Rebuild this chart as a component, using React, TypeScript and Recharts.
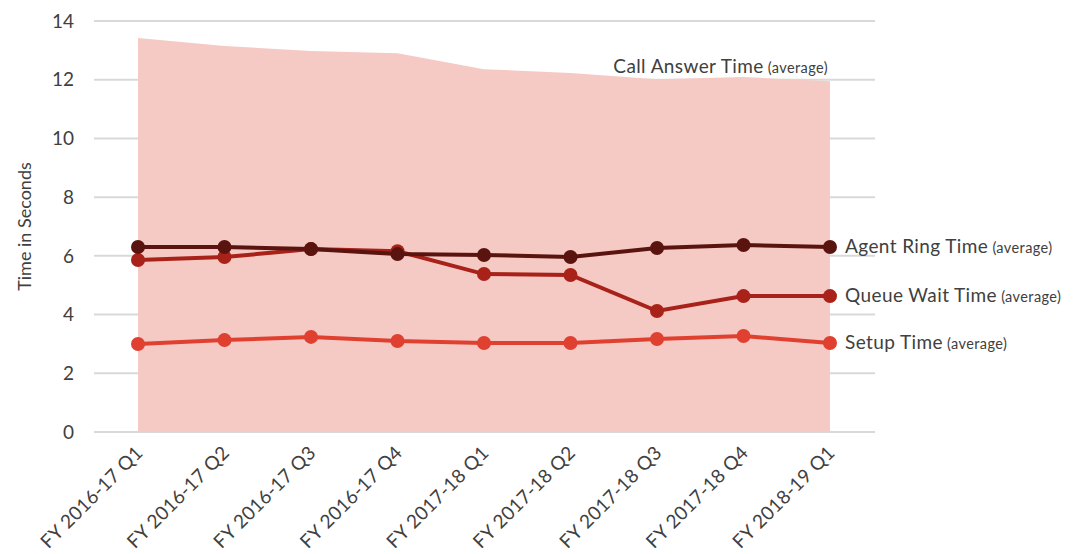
import React from 'react';
import {
  ComposedChart,
  Area,
  Line,
  XAxis,
  YAxis,
  CartesianGrid,
  Label,
} from 'recharts';

const quarters = [
  'FY 2016-17 Q1',
  'FY 2016-17 Q2',
  'FY 2016-17 Q3',
  'FY 2016-17 Q4',
  'FY 2017-18 Q1',
  'FY 2017-18 Q2',
  'FY 2017-18 Q3',
  'FY 2017-18 Q4',
  'FY 2018-19 Q1',
];
const callAnswer = [13.42, 13.15, 12.98, 12.9, 12.36, 12.23, 12.02, 12.09, 11.95];
const agentRing = [6.3, 6.3, 6.23, 6.06, 6.03, 5.96, 6.27, 6.37, 6.3];
const queueWait = [5.86, 5.96, 6.23, 6.16, 5.38, 5.35, 4.12, 4.63, 4.63];
const setupTime = [3.0, 3.13, 3.24, 3.1, 3.03, 3.03, 3.17, 3.27, 3.03];
const yTicks = [0, 2, 4, 6, 8, 10, 12, 14];

const FONT = 'Lato, "Open Sans", sans-serif';
const TEXT = '#404040';

const chartData = quarters.map((q, i) => ({
  quarter: q,
  callAnswer: callAnswer[i],
  agentRing: agentRing[i],
  queueWait: queueWait[i],
  setup: setupTime[i],
}));

const last = quarters.length - 1;

// label at the right end of a line
const endLabel = (name: string) => (props: any) => {
  if (props.index !== last) return null;
  return (
    <text
      x={props.x + 15}
      y={props.y + 6}
      fontFamily={FONT}
      fill={TEXT}
      fontSize={19}
      letterSpacing={0.4}
    >
      {name}
      <tspan fontSize={14.5}> (average)</tspan>
    </text>
  );
};

const areaLabel = (props: any) => {
  if (props.index !== last) return null;
  return (
    <text
      x={props.x - 2}
      y={props.y - 8}
      textAnchor="end"
      fontFamily={FONT}
      fill={TEXT}
      fontSize={19}
      letterSpacing={0.4}
    >
      Call Answer Time
      <tspan fontSize={14.5}> (average)</tspan>
    </text>
  );
};

const XTick = (props: any) => {
  const { x, y, payload } = props;
  return (
    <g transform={`translate(${x + 6},${y + 14})`}>
      <text
        transform="rotate(-45)"
        textAnchor="end"
        fontFamily={FONT}
        fontSize={19}
        letterSpacing={0.3}
        fill={TEXT}
      >
        {payload.value}
      </text>
    </g>
  );
};

const YLabel = (props: any) => {
  const vb = props.viewBox;
  const cy = vb.y + vb.height / 2;
  return (
    <text
      x={0}
      y={0}
      transform={`translate(31,${cy}) rotate(-90)`}
      textAnchor="middle"
      fontFamily={FONT}
      fontSize={18}
      fill={TEXT}
    >
      Time in Seconds
    </text>
  );
};

export default function App() {
  return (
    <div style={{ position: 'absolute', left: 0, top: 0, background: '#fff' }}>
      <ComposedChart
        width={1082}
        height={554}
        data={chartData}
        margin={{ top: 21, right: 207, bottom: 0, left: 0 }}
      >
        <CartesianGrid vertical={false} stroke="#d9d9d9" strokeWidth={2} />
        <XAxis
          dataKey="quarter"
          axisLine={false}
          tickLine={false}
          height={122}
          padding={{ left: 44, right: 45 }}
          interval={0}
          tick={<XTick />}
        />
        <YAxis
          width={94}
          domain={[0, 14]}
          ticks={yTicks}
          axisLine={false}
          tickLine={false}
          tickMargin={14}
          tick={{ fontFamily: FONT, fontSize: 19, fill: TEXT }}
        >
          <Label content={<YLabel />} />
        </YAxis>
        <Area
          type="linear"
          dataKey="callAnswer"
          fill="#f5c9c4"
          fillOpacity={1}
          stroke="none"
          isAnimationActive={false}
          label={areaLabel}
        />
        <Line
          type="linear"
          dataKey="setup"
          stroke="#e04030"
          strokeWidth={4}
          dot={{ r: 7, fill: '#e04030', stroke: 'none' }}
          isAnimationActive={false}
          label={endLabel('Setup Time')}
        />
        <Line
          type="linear"
          dataKey="queueWait"
          stroke="#a82219"
          strokeWidth={4}
          dot={{ r: 7, fill: '#a82219', stroke: 'none' }}
          isAnimationActive={false}
          label={endLabel('Queue Wait Time')}
        />
        <Line
          type="linear"
          dataKey="agentRing"
          stroke="#5a1410"
          strokeWidth={4}
          dot={{ r: 7, fill: '#5a1410', stroke: 'none' }}
          isAnimationActive={false}
          label={endLabel('Agent Ring Time')}
        />
      </ComposedChart>
    </div>
  );
}
